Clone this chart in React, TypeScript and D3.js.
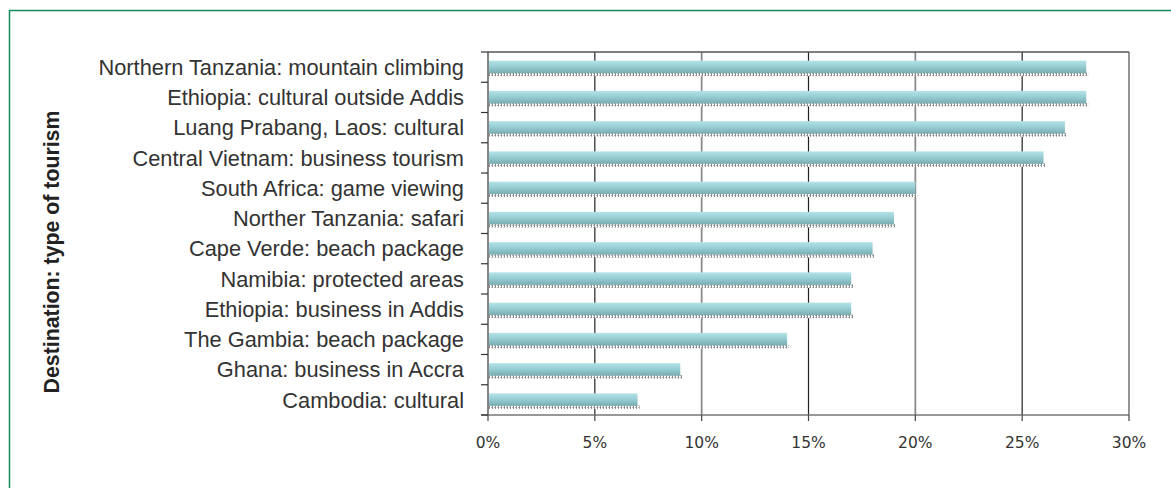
import React from "react";
import * as d3 from "d3";

const categories = [
  "Northern Tanzania: mountain climbing",
  "Ethiopia: cultural outside Addis",
  "Luang Prabang, Laos: cultural",
  "Central Vietnam: business tourism",
  "South Africa: game viewing",
  "Norther Tanzania: safari",
  "Cape Verde: beach package",
  "Namibia: protected areas",
  "Ethiopia: business in Addis",
  "The Gambia: beach package",
  "Ghana: business in Accra",
  "Cambodia: cultural",
];
const values = [28, 28, 27, 26, 20, 19, 18, 17, 17, 14, 9, 7];
const xTicks = [0, 5, 10, 15, 20, 25, 30];
const yTitle = "Destination: type of tourism";

const W = 1171;
const H = 488;
const M = { left: 488, right: 1129, top: 52, bottom: 415 };

export default function App() {
  const x = d3.scaleLinear().domain([0, 30]).range([M.left, M.right]);
  const y = d3.scaleBand<string>().domain(categories).range([M.top, M.bottom]).padding(0);
  const bw = y.bandwidth();
  const boundaries = d3.range(categories.length + 1).map((i) => M.top + i * bw);

  return (
    <svg
      width={W}
      height={H}
      style={{ position: "absolute", left: 0, top: 0, background: "#fff" }}
    >
      <defs>
        <linearGradient id="barGrad" x1="0" y1="0" x2="0" y2="1">
          <stop offset="0%" stopColor="#b3e3e7" />
          <stop offset="45%" stopColor="#98cfd5" />
          <stop offset="100%" stopColor="#78acb1" />
        </linearGradient>
        <pattern id="dots" width="3" height="2" patternUnits="userSpaceOnUse">
          <rect width="3" height="2" fill="#ffffff" />
          <rect width="1" height="2" fill="#8a8a8a" />
          <rect x="2" y="1" width="1" height="1" fill="#b5b5b5" />
        </pattern>
      </defs>
      {/* green frame */}
      <path d={`M9.5,${H + 2} L9.5,10.5 L${W + 2},10.5`} fill="none" stroke="#0f8c5c" strokeWidth={1.5} />

      {/* gridlines */}
      {xTicks.slice(1).map((t, i) => (
        <line
          key={"g" + t}
          x1={x(t)}
          x2={x(t)}
          y1={M.top}
          y2={M.bottom}
          stroke={i % 2 === 0 ? "#222" : "#8a8a8a"}
          strokeWidth={i % 2 === 0 ? 1.2 : 1.8}
        />
      ))}
      {/* top frame line */}
      <line x1={M.left} x2={M.right} y1={M.top} y2={M.top} stroke="#555" strokeWidth={1.5} />

      {/* bars */}
      {categories.map((c, i) => {
        const cy = (y(c) as number) + bw / 2;
        const xe = x(values[i]);
        return (
          <g key={c}>
            <rect x={M.left + 1} y={cy + 5.5} width={xe - M.left + 1} height={3.5} fill="url(#dots)" />
            <rect x={M.left + 1} y={cy - 6.5} width={xe - M.left - 1} height={12.5} fill="url(#barGrad)" />
          </g>
        );
      })}

      {/* axes */}
      <line x1={M.left} x2={M.left} y1={M.top} y2={M.bottom} stroke="#333" strokeWidth={1.2} />
      <line x1={M.left - 7} x2={M.right} y1={M.bottom} y2={M.bottom} stroke="#777" strokeWidth={1.5} />
      {boundaries.map((b, i) => (
        <line key={"yt" + i} x1={M.left - 7} x2={M.left} y1={b} y2={b} stroke="#333" strokeWidth={1.2} />
      ))}
      {xTicks.map((t) => (
        <line key={"xt" + t} x1={x(t)} x2={x(t)} y1={M.bottom} y2={M.bottom + 6} stroke="#444" strokeWidth={1.2} />
      ))}

      {/* category labels */}
      {categories.map((c) => (
        <text
          key={"l" + c}
          x={464}
          y={(y(c) as number) + bw / 2}
          dy="0.35em"
          textAnchor="end"
          fontFamily="'Liberation Sans', Arial, sans-serif"
          fontSize={21.8}
          fill="#333"
        >
          {c}
        </text>
      ))}

      {/* x tick labels */}
      {xTicks.map((t) => (
        <text
          key={"xl" + t}
          x={x(t)}
          y={443}
          dy="0.35em"
          textAnchor="middle"
          fontFamily="'DejaVu Sans', Verdana, sans-serif"
          fontSize={15.5}
          fill="#333"
        >
          {t + "%"}
        </text>
      ))}

      {/* y title */}
      <text
        transform={`translate(52,252) rotate(-90)`}
        dy="0.35em"
        textAnchor="middle"
        fontFamily="'Liberation Sans', Arial, sans-serif"
        fontWeight="bold"
        fontSize={21.3}
        fill="#222"
      >
        {yTitle}
      </text>
    </svg>
  );
}
